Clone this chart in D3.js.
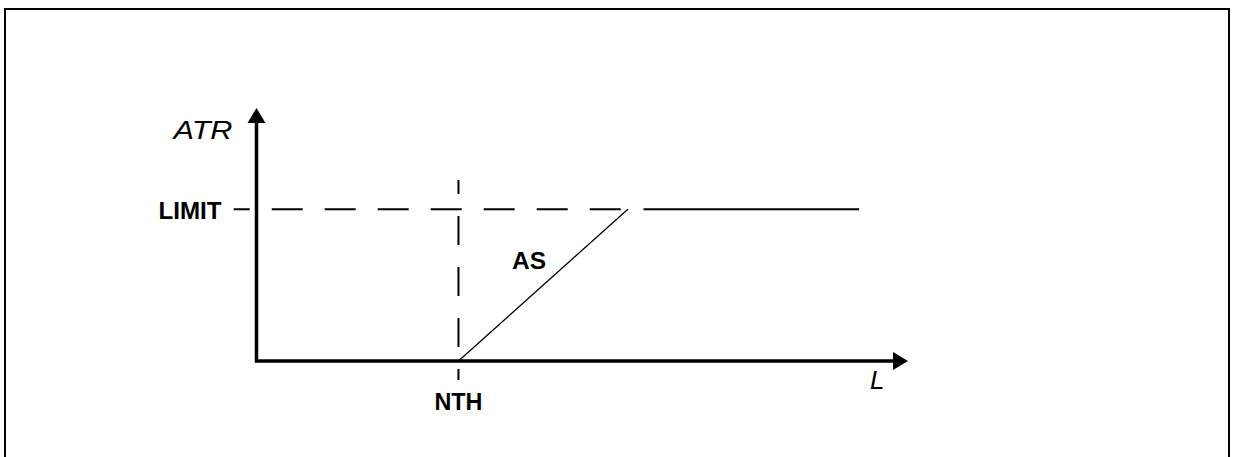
<!DOCTYPE html>
<html>
<head>
<meta charset="utf-8">
<script src="https://cdn.jsdelivr.net/npm/d3@7"></script>
<style>
  body { margin: 0; background: #fff; }
  svg { display: block; }
  text { font-family: "Liberation Sans", Arial, sans-serif; fill: #000; }
  .bold { font-weight: bold; font-size: 23px; }
  .axis-label { font-style: italic; font-size: 26px; }
</style>
</head>
<body>
<svg id="chart" width="1233" height="457"></svg>
<script>
// Chart values (L on x, ATR on y, arbitrary units)
const axisExtent = [0, 100];            // both axes run 0 .. 100
const thresholdL = 31;                  // NTH
const limitATR = 60;                    // LIMIT
const rampPoints = [[31, 0], [57, 60]]; // AS slope
const saturatedPoints = [[59.4, 60], [92.5, 60]];
const limitGuide = [[-3.5, 60], [55.9, 60]];
const thresholdGuide = [[31, 71.5], [31, -7.5]];
const axisNames = { x: "L", y: "ATR" };
const markerNames = { threshold: "NTH", limit: "LIMIT", ramp: "AS" };

const svg = d3.select("#chart");

// Scales
const x = d3.scaleLinear().domain(axisExtent).range([256.5, 908]);
const y = d3.scaleLinear().domain(axisExtent).range([361, 108]);

const line = d3.line().x(d => x(d[0])).y(d => y(d[1]));

// Outer frame
svg.append("rect")
  .attr("x", 5).attr("y", 9)
  .attr("width", 1224).attr("height", 500)
  .attr("fill", "none").attr("stroke", "#000").attr("stroke-width", 2);

// Dashed guides
svg.append("path")
  .attr("d", line(limitGuide))
  .attr("fill", "none").attr("stroke", "#000").attr("stroke-width", 2)
  .attr("stroke-dasharray", "31,22").attr("stroke-dashoffset", 15);

svg.append("path")
  .attr("d", line(thresholdGuide))
  .attr("fill", "none").attr("stroke", "#000").attr("stroke-width", 2)
  .attr("stroke-dasharray", "29,22").attr("stroke-dashoffset", 15);

// Response curve
svg.append("path")
  .attr("d", line(rampPoints))
  .attr("fill", "none").attr("stroke", "#000").attr("stroke-width", 1.3);

svg.append("path")
  .attr("d", line(saturatedPoints))
  .attr("fill", "none").attr("stroke", "#000").attr("stroke-width", 2);

// Axes with arrow heads
const head = 15, half = 9;
const x0 = x(axisExtent[0]), y0 = y(axisExtent[0]);
const xEnd = x(axisExtent[1]), yEnd = y(axisExtent[1]);

svg.append("path")
  .attr("d", `M${x0},${y0 + 1.75}V${yEnd + head}M${x0 - 1.75},${y0}H${xEnd - head}`)
  .attr("fill", "none").attr("stroke", "#000").attr("stroke-width", 3.5);

svg.append("path")
  .attr("d", `M${x0},${yEnd}L${x0 - half},${yEnd + head}L${x0 + half},${yEnd + head}Z`)
  .attr("fill", "#000");

svg.append("path")
  .attr("d", `M${xEnd},${y0}L${xEnd - head},${y0 - half}L${xEnd - head},${y0 + half}Z`)
  .attr("fill", "#000");

// Labels (stretched a little horizontally, as in the original)
svg.append("text").attr("class", "axis-label")
  .attr("x", x0 - 24).attr("y", 139)
  .attr("text-anchor", "end")
  .attr("textLength", 59).attr("lengthAdjust", "spacingAndGlyphs")
  .text(axisNames.y);

svg.append("text").attr("class", "axis-label")
  .attr("x", xEnd - 38).attr("y", 389)
  .text(axisNames.x);

svg.append("text").attr("class", "bold")
  .attr("x", x0 - 35).attr("y", y(limitATR) + 10)
  .attr("text-anchor", "end")
  .attr("textLength", 63).attr("lengthAdjust", "spacingAndGlyphs")
  .text(markerNames.limit);

svg.append("text").attr("class", "bold")
  .attr("x", x(thresholdL)).attr("y", 410)
  .attr("text-anchor", "middle")
  .attr("textLength", 48).attr("lengthAdjust", "spacingAndGlyphs")
  .text(markerNames.threshold);

svg.append("text").attr("class", "bold")
  .attr("x", 512).attr("y", 269)
  .attr("textLength", 34).attr("lengthAdjust", "spacingAndGlyphs")
  .text(markerNames.ramp);
</script>
</body>
</html>
